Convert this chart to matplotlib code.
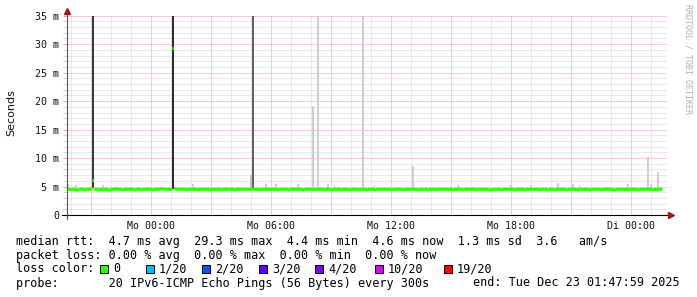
import numpy as np
import matplotlib
matplotlib.use("Agg")
import matplotlib.pyplot as plt
from matplotlib.ticker import MultipleLocator, FuncFormatter
from matplotlib.patches import Rectangle

# median rtt per 5 min step in ms (Sun 19:48 .. Tue 01:45)
median_ms = [
    4.6, 4.6, 4.5, 4.6, 4.6, 4.5, 4.5, 4.6, 4.6, 4.6, 4.5, 4.6,
    4.6, 4.6, 4.7, 6.1, 4.6, 4.6, 4.5, 4.6, 4.6, 4.5, 4.6, 4.6,
    4.5, 4.5, 4.6, 4.6, 4.6, 4.7, 4.6, 4.6, 4.6, 4.5, 4.6, 4.6,
    4.6, 4.6, 4.6, 4.6, 4.5, 4.6, 4.6, 4.6, 4.5, 4.6, 4.6, 4.6,
    4.6, 4.6, 4.6, 4.5, 4.6, 4.6, 4.6, 4.6, 4.7, 4.6, 4.6, 4.6,
    4.6, 4.6, 4.6, 29.3, 4.7, 4.6, 4.6, 4.6, 4.6, 4.6, 4.6, 4.5,
    4.6, 4.6, 4.6, 4.6, 4.6, 4.6, 4.5, 4.6, 4.6, 4.6, 4.6, 4.6,
    4.6, 4.5, 4.6, 4.6, 4.6, 4.6, 4.6, 4.6, 4.5, 4.6, 4.6, 4.6,
    4.6, 4.6, 4.6, 4.6, 4.5, 4.6, 4.6, 4.6, 4.6, 4.6, 4.6, 4.6,
    4.6, 4.6, 4.6, 4.7, 4.6, 4.6, 4.6, 4.5, 4.6, 4.6, 4.6, 4.6,
    4.6, 4.6, 4.6, 4.6, 4.6, 4.6, 4.5, 4.6, 4.6, 4.6, 4.6, 4.6,
    4.5, 4.6, 4.6, 4.6, 4.6, 4.6, 4.6, 4.6, 4.6, 4.5, 4.6, 4.6,
    4.6, 4.6, 4.6, 4.5, 4.6, 4.6, 4.6, 4.6, 4.6, 4.6, 4.5, 4.6,
    4.6, 4.6, 4.5, 4.6, 4.6, 4.6, 4.6, 4.6, 4.5, 4.6, 4.6, 4.6,
    4.6, 4.5, 4.6, 4.6, 4.6, 4.6, 4.5, 4.6, 4.6, 4.6, 4.6, 4.5,
    4.6, 4.6, 4.6, 4.6, 4.5, 4.6, 4.6, 4.6, 4.6, 4.6, 4.6, 4.6,
    4.6, 4.6, 4.5, 4.6, 4.6, 4.6, 4.6, 4.6, 4.6, 4.5, 4.6, 4.6,
    4.6, 4.6, 4.6, 4.6, 4.6, 4.6, 4.5, 4.6, 4.6, 4.6, 4.6, 4.6,
    4.5, 4.6, 4.6, 4.6, 4.6, 4.5, 4.6, 4.6, 4.6, 4.6, 4.6, 4.6,
    4.6, 4.6, 4.6, 4.5, 4.6, 4.6, 4.6, 4.6, 4.6, 4.5, 4.6, 4.6,
    4.6, 4.6, 4.6, 4.6, 4.6, 4.5, 4.6, 4.6, 4.6, 4.6, 4.6, 4.6,
    4.6, 4.5, 4.5, 4.6, 4.6, 4.6, 4.6, 4.6, 4.5, 4.6, 4.6, 4.6,
    4.6, 4.6, 4.6, 4.6, 4.5, 4.6, 4.6, 4.6, 4.6, 4.6, 4.5, 4.6,
    4.6, 4.6, 4.6, 4.6, 4.6, 4.6, 4.6, 4.5, 4.6, 4.6, 4.6, 4.6,
    4.5, 4.6, 4.6, 4.6, 4.5, 4.6, 4.6, 4.6, 4.6, 4.6, 4.6, 4.5,
    4.6, 4.6, 4.6, 4.6, 4.6, 4.6, 4.5, 4.6, 4.6, 4.6, 4.6, 4.6,
    4.6, 4.5, 4.6, 4.6, 4.6, 4.6, 4.6, 4.6, 4.5, 4.6, 4.6, 4.6,
    4.6, 4.6, 4.6, 4.5, 4.5, 4.6, 4.6, 4.6, 4.6, 4.6, 4.6, 4.6,
    4.5, 4.6, 4.6, 4.6, 4.6, 4.6, 4.5, 4.6, 4.6, 4.6, 4.6, 4.6,
    4.6, 4.6, 4.6, 4.5, 4.6, 4.6, 4.6, 4.6, 4.6,
]

# smoke: step index, lowest and highest ping (ms), pings in the smoke
smoke_idx = [0, 5, 15, 21, 63, 75, 110, 111, 119, 125, 138, 147, 150, 156, 160,
             177, 184, 207, 234, 266, 278, 294, 303, 307, 336, 348, 350, 354]
smoke_low = [4.6, 4.6, 4.7, 4.6, 4.6, 4.6, 4.6, 4.8, 4.6, 4.6, 4.6, 4.6, 4.6, 4.6, 4.6,
             4.6, 4.6, 4.6, 4.6, 4.6, 4.6, 4.6, 4.6, 4.6, 4.6, 4.6, 4.6, 4.6]
smoke_top = [5.4, 5.2, 40, 5.3, 40, 5.4, 7.0, 40, 5.5, 5.4, 5.4, 19.2, 40, 5.5, 5.3,
             40, 5.3, 8.6, 5.3, 5.3, 5.3, 5.6, 5.4, 5.3, 5.4, 10.2, 5.4, 7.6]
smoke_pings = [1, 1, 12, 1, 13, 1, 2, 9, 1, 1, 1, 1, 1, 1, 1,
               1, 1, 1, 1, 1, 1, 1, 1, 1, 1, 1, 1, 1]

x_tick_hours = [0, 6, 12, 18, 24]
x_tick_labels = ["Mo 00:00", "Mo 06:00", "Mo 12:00", "Mo 18:00", "Di 00:00"]

rtt = {"avg": 4.7, "max": 29.3, "min": 4.4, "now": 4.6, "sd": 1.3}
rtt_ams = 3.6
loss = {"avg": 0.0, "max": 0.0, "min": 0.0, "now": 0.0}
loss_labels = ["0", "1/20", "2/20", "3/20", "4/20", "10/20", "19/20"]
loss_colors = ["#26ff00", "#00b8ff", "#0059ff", "#5e00ff", "#7e00ff", "#dd00ff", "#ff0000"]
probe_text = "20 IPv6-ICMP Echo Pings (56 Bytes) every 300s"
end_text = "end: Tue Dec 23 01:47:59 2025"

W, H = 697, 297
MONO = "DejaVu Sans Mono"

def fx(px):
    return px / W

def fy(py):
    return 1 - py / H

fig = plt.figure(figsize=(W / 100, H / 100), dpi=100)
fig.patch.set_facecolor("white")
ax = fig.add_axes([fx(67), fy(215), 600 / W, 199.3 / H])

step = 1 / 12
t = -4.2 + np.arange(len(median_ms)) * step
med = np.array(median_ms)

# smoke
idx = np.array(smoke_idx)
low = np.array(smoke_low)
shade = [str(max(0.17, 0.86 - 0.053 * n)) for n in smoke_pings]
ax.bar(t[idx], np.array(smoke_top) - low, bottom=low, width=step,
       align="edge", color=shade, linewidth=0, zorder=2)

# median band
half = 0.26
te = np.append(t, t[-1] + step)
lo = np.append(med - half, med[-1] - half)
hi = np.append(med + half, med[-1] + half)
ax.fill_between(te, lo, hi, step="post", color=loss_colors[0], linewidth=0, zorder=3)

ax.set_xlim(-4.2, 25.8)
ax.set_ylim(0, 35)

ax.xaxis.set_major_locator(MultipleLocator(3))
ax.xaxis.set_minor_locator(MultipleLocator(1))
lab = dict(zip(x_tick_hours, x_tick_labels))
ax.xaxis.set_major_formatter(FuncFormatter(lambda v, p: lab.get(int(round(v)), "")))
ax.yaxis.set_major_locator(MultipleLocator(5))
ax.yaxis.set_minor_locator(MultipleLocator(1))
ax.yaxis.set_major_formatter(FuncFormatter(lambda v, p: "0" if v == 0 else "%d m" % v))

ax.set_axisbelow(True)
ax.grid(which="minor", color="#d2d2d2", linestyle=(0, (1, 1)), linewidth=0.72)
ax.grid(which="major", color="#f29a9a", linestyle=(0, (1, 1)), linewidth=0.72)
for s in ax.spines.values():
    s.set_visible(False)

ax.tick_params(axis="y", which="major", length=2.9, width=0.7, color="#f29a9a",
               pad=2.9, labelsize=7.2, labelcolor="#111111")
ax.tick_params(axis="y", which="minor", length=2.9, width=0.7, color="#d2d2d2")
ax.tick_params(axis="x", which="both", length=0, pad=4.2, labelsize=7.2,
               labelcolor="#111111")
for l in ax.get_xticklabels() + ax.get_yticklabels():
    l.set_family(MONO)

# axes with arrows
ax.plot([-5 / 600, 1 + 1 / 600], [0, 0], transform=ax.transAxes, color="black",
        lw=0.8, clip_on=False, zorder=5)
ax.plot([0, 0], [-4 / 199, 1 + 4 / 199], transform=ax.transAxes, color="#555555",
        lw=0.8, clip_on=False, zorder=5)
ax.plot([1 + 4 / 600], [0], transform=ax.transAxes, marker=">", ms=4.5,
        color="#a01818", clip_on=False, zorder=6)
ax.plot([0], [1 + 5 / 199], transform=ax.transAxes, marker="^", ms=4.5,
        color="#a01818", clip_on=False, zorder=6)

fig.text(fx(11), fy(113), "Seconds", rotation=90, ha="center", va="center",
         fontsize=8, family="DejaVu Sans", color="#111111")
fig.text(fx(688), fy(4), "RRDTOOL / TOBI OETIKER", rotation=270, ha="center",
         va="top", fontsize=6, family=MONO, color="#b0b0b0")

# legend
fs = 8.5
line1 = ("median rtt:  %.1f ms avg  %.1f ms max  %.1f ms min  %.1f ms now  %.1f ms sd  %.1f   am/s"
         % (rtt["avg"], rtt["max"], rtt["min"], rtt["now"], rtt["sd"], rtt_ams))
line2 = ("packet loss: %.2f %% avg  %.2f %% max  %.2f %% min  %.2f %% now"
         % (loss["avg"], loss["max"], loss["min"], loss["now"]))
fig.text(fx(16), fy(241), line1, ha="left", va="center", fontsize=fs, family=MONO)
fig.text(fx(16), fy(255), line2, ha="left", va="center", fontsize=fs, family=MONO)
fig.text(fx(16), fy(269), "loss color:", ha="left", va="center", fontsize=fs, family=MONO)
label_x = [113, 159, 215, 272, 328, 388, 457]
for lx, name, c in zip(label_x, loss_labels, loss_colors):
    fig.patches.append(Rectangle((fx(lx - 13.5), fy(273)), 8 / W, 8 / H,
                                 transform=fig.transFigure, facecolor=c,
                                 edgecolor="black", linewidth=0.7))
    fig.text(fx(lx), fy(269), name, ha="left", va="center", fontsize=fs, family=MONO)
fig.text(fx(16), fy(283), "probe:       " + probe_text, ha="left", va="center",
         fontsize=fs, family=MONO)
fig.text(fx(680), fy(283), end_text, ha="right", va="center", fontsize=fs, family=MONO)

fig.savefig("out.png", dpi=100, facecolor="white")
